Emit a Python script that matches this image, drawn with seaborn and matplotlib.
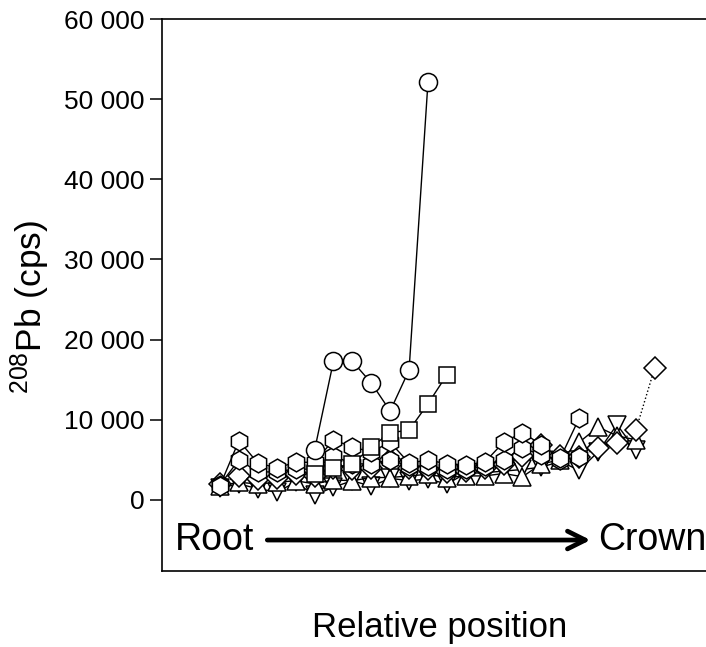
import numpy as np
import pandas as pd
import matplotlib
matplotlib.use("Agg")
import matplotlib.pyplot as plt
import seaborn as sns

# ---- data (x = relative sampling position index) ----
pos_circ = [5, 6, 7, 8, 9, 10, 11]
val_circ = [6200, 17300, 17300, 14600, 11100, 16200, 52100]

pos_sq = [5, 6, 7, 8, 9, 10, 11, 12]
val_sq = [3200, 4000, 4500, 6600, 8400, 8700, 12000, 15600]

pos_hex1 = list(range(0, 20))
val_hex1 = [1800, 7400, 4600, 4000, 4700, 4700, 7500, 6600, 6000, 7200,
            4600, 5000, 4500, 4400, 4700, 7200, 8400, 6900, 5200, 10200]

pos_hex2 = list(range(0, 20))
val_hex2 = [1900, 5000, 3500, 3500, 3900, 3800, 5500, 4500, 4500, 5000,
            4200, 4200, 3800, 3800, 4200, 5000, 6500, 5600, 5000, 5400]

pos_dia = list(range(0, 24))
val_dia = [2000, 3000, 2600, 2800, 3200, 3000, 4000, 3800, 4000, 5000,
           4000, 3800, 3500, 3600, 4000, 4500, 5500, 6900, 5500, 5400,
           6500, 7100, 8700, 16500]

pos_up = list(range(0, 23))
val_up = [1800, 2200, 2000, 2200, 2400, 2000, 2500, 2400, 2800, 2800,
          3000, 3200, 2800, 3000, 3000, 3300, 2900, 4500, 5000, 7200,
          9100, 8000, 7500]

pos_down = list(range(0, 23))
val_down = [1500, 2000, 1400, 1000, 2200, 600, 1600, 2400, 1700, 2700,
            2400, 2600, 2000, 3300, 3400, 3600, 3800, 4100, 4800, 3700,
            6000, 9400, 6200]

yticks = [0, 10000, 20000, 30000, 40000, 50000, 60000]
ytick_labels = ["0", "10 000", "20 000", "30 000", "40 000", "50 000", "60 000"]

# ---- style ----
sns.set_style("ticks")
plt.rcParams["font.family"] = ["Liberation Sans", "DejaVu Sans"]
plt.rcParams["mathtext.default"] = "regular"
plt.rcParams["text.color"] = "black"
plt.rcParams["axes.labelcolor"] = "black"
plt.rcParams["ytick.color"] = "black"
plt.rcParams["xtick.color"] = "black"

fig = plt.figure(figsize=(7.06, 6.47), dpi=100)
ax = fig.add_axes([0.2295, 0.1175, 0.8045, 0.8531])

series = [
    (pos_down, val_down, "v", 12.5, "-"),
    (pos_up, val_up, "^", 12.5, "-"),
    (pos_dia, val_dia, "D", 11.0, ":"),
    (pos_hex2, val_hex2, "h", 13.5, "-"),
    (pos_hex1, val_hex1, "h", 13.5, "-"),
    (pos_sq, val_sq, "s", 11.5, "-"),
    (pos_circ, val_circ, "o", 13.0, "-"),
]

for xs, ys, mk, ms, ls in series:
    df = pd.DataFrame({"pos": xs, "cps": ys})
    sns.lineplot(data=df, x="pos", y="cps", ax=ax, color="black",
                 linewidth=1.0, linestyle=ls, marker=mk, markersize=ms,
                 markerfacecolor="white", markeredgecolor="black",
                 markeredgewidth=1.1, errorbar=None, sort=False)

ax.set_xlim(-3.07, 26.98)
ax.set_ylim(-8860, 60000)
ax.set_yticks(yticks)
ax.set_yticklabels(ytick_labels)
ax.set_xticks([])
ax.tick_params(axis="y", direction="out", length=9, width=1.1, pad=3.5,
               labelsize=19, colors="black")
for s in ["left", "top", "bottom"]:
    ax.spines[s].set_linewidth(1.2)
    ax.spines[s].set_color("black")
ax.spines["right"].set_visible(False)

ax.set_xlabel("")
ax.set_ylabel("")
fig.text(0.623, 0.03, "Relative position", ha="center", va="center", fontsize=25)
fig.text(0.043, 0.525, r"$^{208}$Pb (cps)", rotation=90, ha="center", va="center",
         fontsize=25.5)

# Root -> Crown annotation
ax.text(-2.4, -5000, "Root", ha="left", va="center", fontsize=27)
ax.text(20.0, -5000, "Crown", ha="left", va="center", fontsize=27)
ax.annotate("", xy=(19.6, -5000), xytext=(2.5, -5000),
            arrowprops=dict(arrowstyle="->", lw=3.4, color="black",
                            mutation_scale=32, shrinkA=0, shrinkB=0))

fig.savefig("out.png", dpi=100, facecolor="white")
